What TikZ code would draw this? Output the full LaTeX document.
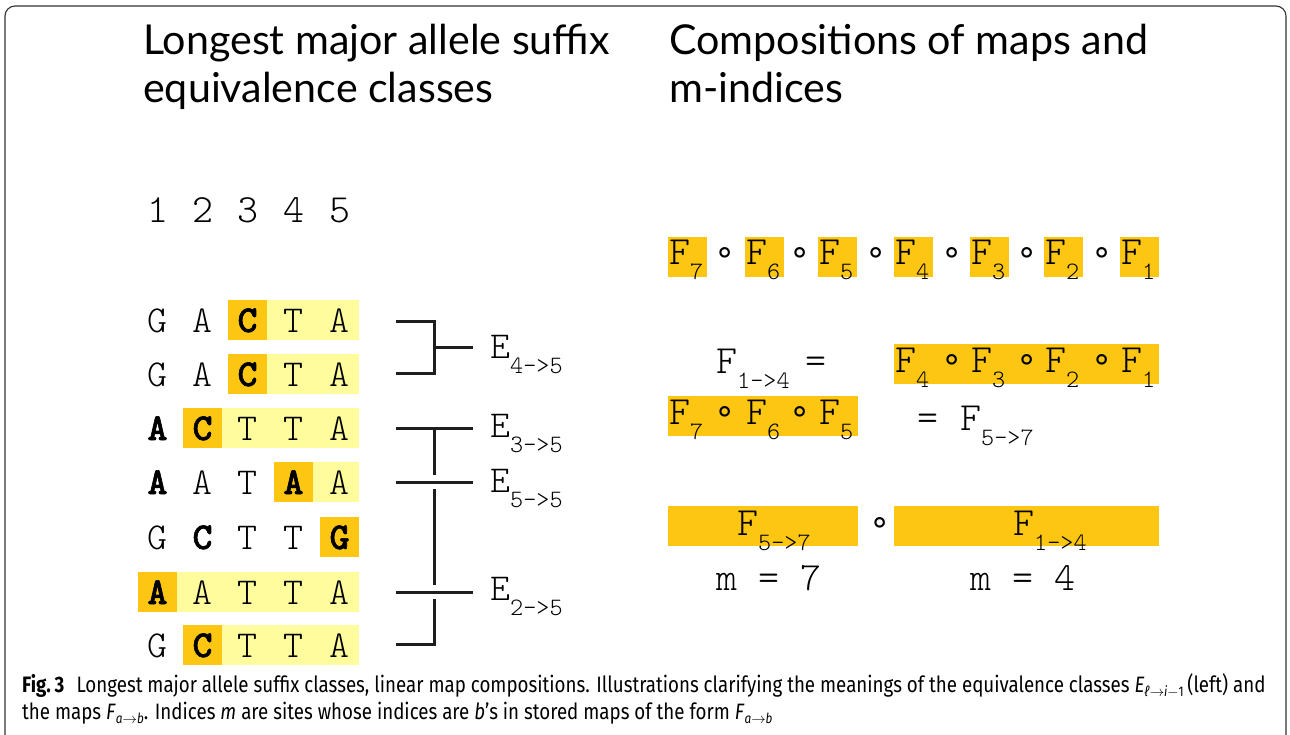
\documentclass[tikz,border=0pt]{standalone}
\usepackage{fontspec}
\newfontfamily\titlefont{Lato}
\newfontfamily\seqfont{lmmonolt10}[Extension=.otf, UprightFont=*-regular, BoldFont=*-bold, BoldFeatures={FakeBold=1.6}]
\newfontfamily\capfont{Fira Sans}[FakeStretch=0.84]
\newfontfamily\symfont{DejaVu Sans}
\definecolor{darkhl}{HTML}{FCC612}
\definecolor{lighthl}{HTML}{FEFC9C}
\definecolor{ink}{HTML}{1E1E1E}
\newcommand\sbx[1]{\raisebox{-15pt}{\fontsize{25}{25}\selectfont #1}}
\newcommand\csub[1]{\raisebox{-4pt}{\fontsize{14}{14}\selectfont #1}}
\begin{document}
\begin{tikzpicture}[x=1pt,y=-1pt,
  ttl/.style={font=\titlefont\fontsize{41.2}{41.2}\selectfont, anchor=base west, inner sep=0pt},
  seq/.style={font=\seqfont\fontsize{38}{38}\selectfont, anchor=base, inner sep=0pt},
  seqb/.style={font=\seqfont\bfseries\fontsize{38}{38}\selectfont, anchor=base, inner sep=0pt},
  num/.style={font=\seqfont\fontsize{40}{40}\selectfont, anchor=base, inner sep=0pt},
  elab/.style={font=\seqfont\fontsize{38}{38}\selectfont, anchor=base west, inner sep=0pt},
  fmap/.style={font=\seqfont\fontsize{40}{40}\selectfont, anchor=base west, inner sep=0pt},
  eqs/.style={font=\seqfont\fontsize{40}{40}\selectfont, anchor=base, inner sep=0pt},
  circ/.style={font=\symfont\fontsize{34}{34}\selectfont, anchor=center, inner sep=0pt},
  dk/.style={fill=darkhl, draw=none},
  lt/.style={fill=lighthl, draw=none},
  brk/.style={draw=ink, line width=3pt},
  captxt/.style={font=\capfont\fontsize{22.3}{22.3}\selectfont, anchor=base west, inner sep=0pt}
]
\useasboundingbox (0,0) rectangle (1290,735);
\draw[rounded corners=10pt, line width=1.1pt, color=black!80] (5,6) rectangle (1286,760);

% titles
\node[ttl] (t1) at (143,55) {Longest major allele suffix};
\node[ttl] (t2) at (143,103) {equivalence classes};
\node[ttl] (t3) at (669,55) {Compositions of maps and};
\node[ttl] (t4) at (669,103) {m-indices};

% column numbers
\node[num] (n1) at (157.5,223) {1};
\node[num] (n2) at (202.5,223) {2};
\node[num] (n3) at (247.5,223) {3};
\node[num] (n4) at (293.5,223) {4};
\node[num] (n5) at (339.5,223) {5};

% highlight boxes left
\path[dk] (228,300) rectangle (267,340);
\path[lt] (267,300) rectangle (359,340);
\path[dk] (228,354) rectangle (267,394);
\path[lt] (267,354) rectangle (359,394);
\path[dk] (183,408) rectangle (222,448);
\path[lt] (222,408) rectangle (359,448);
\path[dk] (274,462) rectangle (313,502);
\path[lt] (313,462) rectangle (359,502);
\path[dk] (320,517) rectangle (359,557);
\path[dk] (138,572) rectangle (177,612);
\path[lt] (177,572) rectangle (359,612);
\path[dk] (183,625) rectangle (222,665);
\path[lt] (222,625) rectangle (359,665);

% row 1
\node[seq]  (r1c1) at (157.5,332) {G};
\node[seq]  (r1c2) at (202.5,332) {A};
\node[seqb] (r1c3) at (247.5,332) {C};
\node[seq]  (r1c4) at (293.5,332) {T};
\node[seq]  (r1c5) at (339.5,332) {A};
% row 2
\node[seq]  (r2c1) at (157.5,386) {G};
\node[seq]  (r2c2) at (202.5,386) {A};
\node[seqb] (r2c3) at (247.5,386) {C};
\node[seq]  (r2c4) at (293.5,386) {T};
\node[seq]  (r2c5) at (339.5,386) {A};
% row 3
\node[seqb] (r3c1) at (157.5,440) {A};
\node[seqb] (r3c2) at (202.5,440) {C};
\node[seq]  (r3c3) at (247.5,440) {T};
\node[seq]  (r3c4) at (293.5,440) {T};
\node[seq]  (r3c5) at (339.5,440) {A};
% row 4
\node[seqb] (r4c1) at (157.5,494) {A};
\node[seq]  (r4c2) at (202.5,494) {A};
\node[seq]  (r4c3) at (247.5,494) {T};
\node[seqb] (r4c4) at (293.5,494) {A};
\node[seq]  (r4c5) at (339.5,494) {A};
% row 5
\node[seq]  (r5c1) at (157.5,549) {G};
\node[seqb] (r5c2) at (202.5,549) {C};
\node[seq]  (r5c3) at (247.5,549) {T};
\node[seq]  (r5c4) at (293.5,549) {T};
\node[seqb] (r5c5) at (339.5,549) {G};
% row 6
\node[seqb] (r6c1) at (157.5,604) {A};
\node[seq]  (r6c2) at (202.5,604) {A};
\node[seq]  (r6c3) at (247.5,604) {T};
\node[seq]  (r6c4) at (293.5,604) {T};
\node[seq]  (r6c5) at (339.5,604) {A};
% row 7
\node[seq]  (r7c1) at (157.5,657) {G};
\node[seqb] (r7c2) at (202.5,657) {C};
\node[seq]  (r7c3) at (247.5,657) {T};
\node[seq]  (r7c4) at (293.5,657) {T};
\node[seq]  (r7c5) at (339.5,657) {A};

% brackets
\coordinate (a1) at (396,321);
\coordinate (a2) at (434,321);
\coordinate (a3) at (434,373);
\coordinate (a4) at (396,373);
\coordinate (a5) at (434,347);
\coordinate (a6) at (473,347);
\draw[brk] (a1) -- (a2) -- (a3) -- (a4);
\draw[brk] (a5) -- (a6);
\coordinate (b1) at (396,428);
\coordinate (b2) at (473,428);
\coordinate (b3) at (434,428);
\coordinate (b4) at (434,475);
\coordinate (b5) at (396,482);
\coordinate (b6) at (473,482);
\coordinate (b7) at (434,489);
\coordinate (b8) at (434,585);
\coordinate (b9) at (396,592);
\coordinate (b10) at (473,592);
\coordinate (b11) at (434,599);
\coordinate (b12) at (434,644);
\coordinate (b13) at (396,644);
\draw[brk] (b1) -- (b2);
\draw[brk] (b3) -- (b4);
\draw[brk] (b5) -- (b6);
\draw[brk] (b7) -- (b8);
\draw[brk] (b9) -- (b10);
\draw[brk] (b11) -- (b12) -- (b13);

% E labels
\node[elab] (e45) at (490,358) {E\sbx{4->5}};
\node[elab] (e35) at (490,437) {E\sbx{3->5}};
\node[elab] (e55) at (490,492) {E\sbx{5->5}};
\node[elab] (e25) at (490,600) {E\sbx{2->5}};

% right: row 1
\path[dk] (668,237) rectangle (707,277);
\path[dk] (745,237) rectangle (784,277);
\path[dk] (818,237) rectangle (857,277);
\path[dk] (894,237) rectangle (933,277);
\path[dk] (970,237) rectangle (1009,277);
\path[dk] (1044,237) rectangle (1083,277);
\path[dk] (1120,237) rectangle (1159,277);
\node[fmap] (f7) at (669,265) {F\sbx{7}};
\node[fmap] (f6) at (746,265) {F\sbx{6}};
\node[fmap] (f5) at (819,265) {F\sbx{5}};
\node[fmap] (f4) at (895,265) {F\sbx{4}};
\node[fmap] (f3) at (971,265) {F\sbx{3}};
\node[fmap] (f2) at (1045,265) {F\sbx{2}};
\node[fmap] (f1) at (1121,265) {F\sbx{1}};
\node[circ] (o1) at (725,256) {∘};
\node[circ] (o2) at (800,256) {∘};
\node[circ] (o3) at (876,256) {∘};
\node[circ] (o4) at (952,256) {∘};
\node[circ] (o5) at (1027,256) {∘};
\node[circ] (o6) at (1102,256) {∘};

% row 2
\path[dk] (894,344) rectangle (1159,384);
\node[fmap] (g14) at (716,373) {F\sbx{1->4}};
\node[eqs] (q1) at (816,373) {=};
\node[fmap] (g4) at (895,372) {F\sbx{4}};
\node[fmap] (g3) at (971,372) {F\sbx{3}};
\node[fmap] (g2) at (1045,372) {F\sbx{2}};
\node[fmap] (g1) at (1121,372) {F\sbx{1}};
\node[circ] (p1) at (952,363) {∘};
\node[circ] (p2) at (1027,363) {∘};
\node[circ] (p3) at (1102,363) {∘};

% row 3
\path[dk] (668,396) rectangle (858,436);
\node[fmap] (h7) at (669,424) {F\sbx{7}};
\node[fmap] (h6) at (746,424) {F\sbx{6}};
\node[fmap] (h5) at (819,424) {F\sbx{5}};
\node[circ] (s1) at (725,415) {∘};
\node[circ] (s2) at (800,415) {∘};
\node[eqs] (q2) at (928,430) {=};
\node[fmap] (h57) at (960,430) {F\sbx{5->7}};

% row 4
\path[dk] (668,506) rectangle (858,546);
\path[dk] (894,506) rectangle (1159,546);
\node[fmap] (k57) at (737,535) {F\sbx{5->7}};
\node[circ] (s3) at (880,526) {∘};
\node[fmap] (k14) at (1013,535) {F\sbx{1->4}};
\node[eqs] (m7) at (769,590) {m = 7};
\node[eqs] (m4) at (1023,590) {m = 4};

% caption
\node[captxt] (c1) at (22,692) {\textbf{Fig.\,3}\hspace{0.55em}Longest major allele suffix classes, linear map compositions. Illustrations clarifying the meanings of the equivalence classes \textit{E}\csub{\textit{ℓ}$\rightarrow$\textit{i}$-$1}\,(left) and};
\node[captxt] (c2) at (22,719) {the maps \textit{F}\csub{\textit{a}$\rightarrow$\textit{b}}. Indices \textit{m} are sites whose indices are \textit{b}’s in stored maps of the form \textit{F}\csub{\textit{a}$\rightarrow$\textit{b}}};
\end{tikzpicture}
\end{document}
